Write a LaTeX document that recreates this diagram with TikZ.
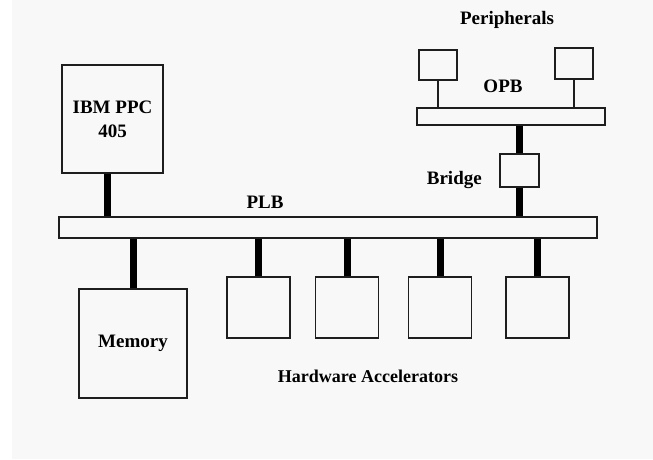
\documentclass[tikz,border=0pt]{standalone}
\usepackage{fontspec}
\setmainfont{Liberation Serif}
\usetikzlibrary{positioning}
\definecolor{bgGrey}{HTML}{F8F8F8}
\definecolor{lineDark}{HTML}{1E1E1E}

\begin{document}
\begin{tikzpicture}[x=1pt,y=-1pt, box/.style={draw=lineDark,line width=1.4pt,fill=bgGrey,inner sep=0pt,align=center,font=\bfseries\fontsize{19}{24}\selectfont}, accbox/.style={box,minimum width=63pt,minimum height=61pt}, lbl/.style={font=\bfseries\fontsize{19}{24}\selectfont}, link/.style={draw=black,line width=7pt}, plink/.style={draw=lineDark,line width=1.3pt}]
\useasboundingbox (0,0) rectangle (653,459);
\fill[bgGrey] (12,0) rectangle (653,459);
% buses
\node[box,minimum width=538pt,minimum height=21pt] (plb) at (328,227.5) {};
\node[box,minimum width=188pt,minimum height=17pt] (opb) at (511,116.5) {};
\node[lbl] at (265,202) {PLB};
\node[lbl] at (503,86) {OPB};
% processor, memory, bridge
\node[box,minimum width=101pt,minimum height=108pt] (ppc) at (112.5,119) {IBM PPC\\405};
\node[box,minimum width=108pt,minimum height=109pt] (mem) at (133,343.5) {Memory};
\node[box,minimum width=39pt,minimum height=33pt] (bridge) at (519.5,170.5) {};
\node[lbl,left=14pt of bridge,yshift=-9pt] {Bridge};
\draw[link] ([xshift=-5pt]ppc.south) -- ([xshift=-5pt]ppc.south |- plb.north);
\draw[link] (mem.north) -- (mem.north |- plb.south);
\draw[link] (bridge.north) -- (bridge.north |- opb.south);
\draw[link] (bridge.south) -- (bridge.south |- plb.north);
% peripherals on the OPB
\node[box,minimum width=38pt,minimum height=30pt] (pera) at (438,65) {};
\node[box,minimum width=38pt,minimum height=31pt] (perb) at (574,63.5) {};
\draw[plink] (pera.south) -- (pera.south |- opb.north);
\draw[plink] (perb.south) -- (perb.south |- opb.north);
\node[lbl] at (507,20) {Peripherals};
% accelerators on the PLB
\foreach \i/\x in {1/258.5,2/347,3/440,4/537.5}{
  \node[accbox] (acc\i) at (\x,307.5) {};
  \draw[link] (acc\i.north) -- (acc\i.north |- plb.south);
}
\node[lbl,font=\bfseries\fontsize{18}{22}\selectfont] at (368,376) {Hardware Accelerators};
\end{tikzpicture}
\end{document}
